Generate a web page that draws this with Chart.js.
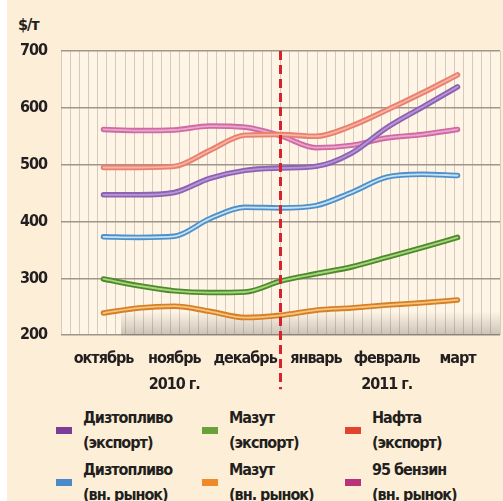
<!DOCTYPE html>
<html lang="ru">
<head>
<meta charset="UTF-8" />
<title>Цены на нефтепродукты</title>
<script src="https://cdn.jsdelivr.net/npm/chart.js"></script>
<style>
  body { margin: 0; background: #fff; }
  .panel {
    position: absolute; left: 7px; top: 0; width: 496px; height: 501px;
    background: #fdefd7; color: #231f20;
    font-family: 'DejaVu Sans Condensed', sans-serif;
    font-weight: bold; letter-spacing: -1px;
  }
  .unit { position: absolute; left: 11px; top: 15px; font-size: 16px; }
  #chart { position: absolute; left: 0; top: 0; }
  .legend {
    position: absolute; left: 49px; top: 405px;
    display: grid; grid-template-columns: 146px 143px 150px; row-gap: 2px;
  }
  .item { display: flex; align-items: center; font-size: 16px; line-height: 25px; }
  .mark { width: 16px; height: 7px; margin-right: 11px; flex: none; }
</style>
</head>
<body>
<div class="panel">
  <div class="unit">$/т</div>
  <canvas id="chart" width="496" height="404"></canvas>
  <div class="legend" id="legend"></div>
</div>
<script>
  // months on the axis, years under ноябрь / февраль
  const months = ['октябрь', 'ноябрь', 'декабрь', 'январь', 'февраль', 'март'];
  const years = ['', '2010 г.', '', '', '2011 г.', ''];
  // readings at every half month
  const steps = [0, 0.5, 1, 1.5, 2, 2.5, 3, 3.5, 4, 4.5, 5];

  const dieselExport = [447, 447, 451, 476, 490, 494, 497, 520, 565, 601, 637];
  const mazutExport  = [299, 287, 278, 275, 276, 295, 308, 320, 337, 354, 372];
  const naphtha      = [495, 495, 497, 525, 552, 553, 550, 568, 596, 626, 658];
  const dieselLocal  = [373, 372, 374, 405, 425, 424, 428, 451, 478, 483, 481];
  const mazutLocal   = [239, 248, 251, 242, 231, 235, 244, 248, 253, 257, 262];
  const petrol95     = [562, 560, 561, 568, 566, 551, 530, 534, 547, 553, 562];

  const names = [
    ['Дизтопливо', '(экспорт)'], ['Мазут', '(экспорт)'], ['Нафта', '(экспорт)'],
    ['Дизтопливо', '(вн. рынок)'], ['Мазут', '(вн. рынок)'], ['95 бензин', '(вн. рынок)']
  ];
  const series = [dieselExport, mazutExport, naphtha, dieselLocal, mazutLocal, petrol95];
  const lineColors  = ['#8d62b3', '#4e8a2c', '#e9806f', '#4f90c9', '#d4802a', '#cf6aa4'];
  const innerColors = ['#b896d6', '#a6d67c', '#f7b3a4', '#c4e3f6', '#f9c476', '#eaa6cc'];
  const legendColors = ['#7d3c98', '#6aa23a', '#e2432f', '#4a8ac8', '#ee8a2a', '#b8337a'];

  const FONT = "'DejaVu Sans Condensed', sans-serif";

  // light centre stripe over every line
  const tube = {
    id: 'tube',
    afterDatasetDraw(chart, args) {
      const el = args.meta.dataset, o = el.options;
      const c = o.borderColor, w = o.borderWidth;
      o.borderColor = innerColors[args.index];
      o.borderWidth = 1.8;
      el.draw(chart.ctx, chart.chartArea);
      o.borderColor = c;
      o.borderWidth = w;
    }
  };

  const backdrop = {
    id: 'backdrop',
    beforeDraw(chart) {
      const { ctx, chartArea: a } = chart;
      ctx.letterSpacing = '-1px'; // narrower labels
      ctx.save();
      ctx.fillStyle = '#fef5e6';
      ctx.fillRect(a.left, a.top, a.right - a.left, a.bottom - a.top);
      ctx.restore();
    },
    beforeDatasetsDraw(chart) {
      const { ctx, chartArea: a } = chart;
      const g = ctx.createLinearGradient(0, a.bottom - 24, 0, a.bottom);
      g.addColorStop(0, 'rgba(110,100,95,0)');
      g.addColorStop(1, 'rgba(110,100,95,0.35)');
      ctx.save();
      ctx.fillStyle = g;
      ctx.fillRect(a.left + 60, a.bottom - 24, a.right - a.left - 60, 24);
      ctx.restore();
    }
  };

  // red dashed divider between the years
  const divider = {
    id: 'divider',
    afterDatasetsDraw(chart) {
      const { ctx, chartArea: a } = chart;
      const x = chart.scales.x.getPixelForValue(2.5);
      ctx.save();
      ctx.strokeStyle = '#d8232d';
      ctx.lineWidth = 3;
      ctx.setLineDash([9, 5]);
      ctx.beginPath();
      ctx.moveTo(x, a.top);
      ctx.lineTo(x, a.bottom + 54);
      ctx.stroke();
      ctx.restore();
    }
  };

  const chart = new Chart(document.getElementById('chart'), {
    type: 'line',
    data: {
      datasets: series.map((s, i) => ({
        label: names[i].join(' '),
        data: s.map((v, k) => ({ x: steps[k], y: v })),
        borderColor: lineColors[i],
        backgroundColor: legendColors[i],
        borderWidth: 5.5,
        borderCapStyle: 'round',
        pointRadius: 0,
        cubicInterpolationMode: 'monotone',
        fill: false
      }))
    },
    options: {
      responsive: false,
      animation: false,
      events: [],
      layout: { padding: { top: 51, right: 3, bottom: 4, left: 0 } },
      plugins: { legend: { display: false }, tooltip: { enabled: false } },
      scales: {
        x: {
          type: 'linear', min: -0.6, max: 5.6,
          afterBuildTicks: s => { s.ticks = months.map((m, i) => ({ value: i })); },
          grid: { display: false },
          border: { display: false },
          ticks: {
            autoSkip: false, maxRotation: 0, padding: 2, color: '#231f20',
            font: { family: FONT, size: 16, weight: 'bold', lineHeight: 1.65 },
            callback: v => years[v] ? [months[v], years[v]] : months[v]
          }
        },
        xg: {
          type: 'linear', min: 0, max: 48, position: 'bottom',
          afterBuildTicks: s => { s.ticks = Array.from({ length: 49 }, (_, i) => ({ value: i })); },
          grid: { color: '#d6cbbb', lineWidth: 1, drawTicks: false },
          border: { display: false },
          ticks: { display: false }
        },
        y: {
          min: 200, max: 700,
          afterFit: s => { s.width = 54; },
          grid: { color: '#9f958b', lineWidth: 1.5, drawTicks: false },
          border: { display: false },
          ticks: {
            stepSize: 100, padding: 14, color: '#231f20',
            font: { family: FONT, size: 16, weight: 'bold' }
          }
        }
      }
    },
    plugins: [backdrop, tube, divider]
  });

  // legend: three columns, two rows
  const legend = document.getElementById('legend');
  chart.data.datasets.forEach((ds, i) => {
    const item = document.createElement('div');
    item.className = 'item';
    item.innerHTML = '<span class="mark" style="background:' + legendColors[i] + '"></span>' +
      '<span>' + names[i][0] + '<br>' + names[i][1] + '</span>';
    legend.appendChild(item);
  });
</script>
</body>
</html>
